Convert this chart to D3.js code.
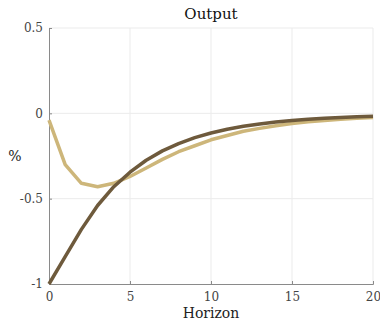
<!DOCTYPE html>
<html>
<head>
<meta charset="utf-8">
<script src="https://cdn.jsdelivr.net/npm/d3@7"></script>
<style>
  body { margin: 0; background: #fff; }
</style>
</head>
<body>
<div id="chart"></div>
<script>
// Horizon steps and the two impulse responses
var horizon = d3.range(0, 21);
var darkSeries = [-1, -0.84, -0.68, -0.54, -0.43, -0.345, -0.275, -0.22, -0.177, -0.142,
                  -0.115, -0.093, -0.076, -0.062, -0.051, -0.042, -0.035, -0.029, -0.024, -0.020, -0.017];
var lightSeries = [-0.04, -0.30, -0.41, -0.43, -0.41, -0.37, -0.32, -0.27, -0.225, -0.19,
                   -0.155, -0.13, -0.105, -0.088, -0.073, -0.06, -0.05, -0.042, -0.035, -0.029, -0.024];
var xTicks = [0, 5, 10, 15, 20];
var yTicks = [-1, -0.5, 0, 0.5];

var FONT = "'DejaVu Serif', serif";
var width = 380, height = 320;
var margin = {top: 28, right: 7, bottom: 36, left: 49};

var svg = d3.select("#chart").append("svg")
    .attr("width", width)
    .attr("height", height);

var x = d3.scaleLinear().domain([0, 20]).range([margin.left, width - margin.right]);
var y = d3.scaleLinear().domain([-1, 0.5]).range([height - margin.bottom, margin.top]);

// grid
var grid = svg.append("g");
grid.selectAll("line.vx")
    .data(xTicks.slice(1))
    .enter().append("line")
    .attr("x1", d => x(d)).attr("x2", d => x(d))
    .attr("y1", y(-1)).attr("y2", y(0.5))
    .style("stroke", "#ebebeb").style("stroke-width", 1);
grid.selectAll("line.hy")
    .data(yTicks.slice(1))
    .enter().append("line")
    .attr("x1", x(0)).attr("x2", x(20))
    .attr("y1", d => y(d)).attr("y2", d => y(d))
    .style("stroke", "#ebebeb").style("stroke-width", 1);

// axes (ticks pointing inside like matlab)
var xAxis = svg.append("g")
    .attr("transform", "translate(0," + y(-1) + ")")
    .call(d3.axisBottom(x).tickValues(xTicks).tickSize(-3).tickPadding(8).tickFormat(d3.format("d")));
var yAxis = svg.append("g")
    .attr("transform", "translate(" + x(0) + ",0)")
    .call(d3.axisLeft(y).tickValues(yTicks).tickSize(-3).tickPadding(6).tickFormat(d => d === 0 ? "0" : String(d)));

[xAxis, yAxis].forEach(function (a) {
    a.attr("font-family", FONT);
    a.select(".domain").style("stroke", "#8a8a8a");
    a.selectAll(".tick line").style("stroke", "#8a8a8a");
    a.selectAll(".tick text")
        .style("font-size", "12px")
        .style("fill", "#444");
});

// lines
var line = d3.line()
    .x((d, i) => x(horizon[i]))
    .y(d => y(d));

svg.append("path")
    .datum(lightSeries)
    .attr("d", line)
    .style("fill", "none")
    .style("stroke", "#cdb67a")
    .style("stroke-width", 3.5)
    .style("stroke-linejoin", "round");

svg.append("path")
    .datum(darkSeries)
    .attr("d", line)
    .style("fill", "none")
    .style("stroke", "#6e5a3c")
    .style("stroke-width", 3.5)
    .style("stroke-linejoin", "round");

// labels
svg.append("text")
    .attr("x", (x(0) + x(20)) / 2)
    .attr("y", 19)
    .attr("text-anchor", "middle")
    .attr("font-family", FONT)
    .style("font-size", "15px")
    .style("fill", "#111")
    .text("Output");

svg.append("text")
    .attr("x", (x(0) + x(20)) / 2)
    .attr("y", 318)
    .attr("text-anchor", "middle")
    .attr("font-family", FONT)
    .style("font-size", "14px")
    .style("fill", "#222")
    .text("Horizon");

svg.append("text")
    .attr("x", 15)
    .attr("y", 161)
    .attr("text-anchor", "middle")
    .attr("font-family", FONT)
    .style("font-size", "14px")
    .style("fill", "#222")
    .text("%");
</script>
</body>
</html>
